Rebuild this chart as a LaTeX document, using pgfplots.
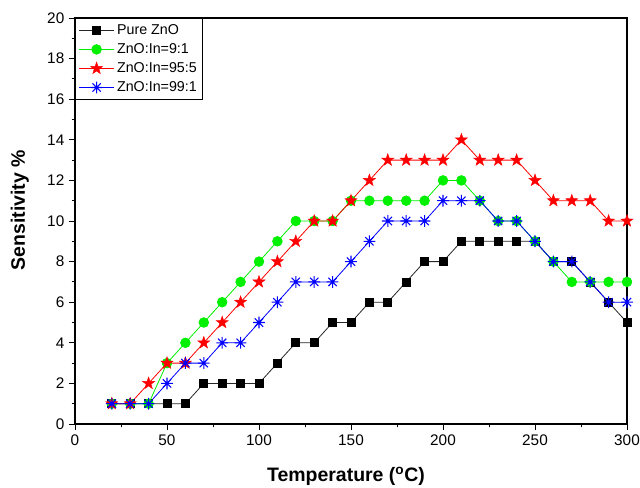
\documentclass[border=0pt]{standalone}
\usepackage{pgfplots}
\pgfplotsset{compat=1.18}
\usepackage{fontspec}
\setmainfont{Liberation Sans}
\usetikzlibrary{plotmarks}
\pgfdeclareplotmark{fstar}{%
  \pgfpathmoveto{\pgfpointpolar{90}{\pgfplotmarksize}}%
  \pgfpathlineto{\pgfpointpolar{126}{0.40\pgfplotmarksize}}%
  \pgfpathlineto{\pgfpointpolar{162}{\pgfplotmarksize}}%
  \pgfpathlineto{\pgfpointpolar{198}{0.40\pgfplotmarksize}}%
  \pgfpathlineto{\pgfpointpolar{234}{\pgfplotmarksize}}%
  \pgfpathlineto{\pgfpointpolar{270}{0.40\pgfplotmarksize}}%
  \pgfpathlineto{\pgfpointpolar{306}{\pgfplotmarksize}}%
  \pgfpathlineto{\pgfpointpolar{342}{0.40\pgfplotmarksize}}%
  \pgfpathlineto{\pgfpointpolar{18}{\pgfplotmarksize}}%
  \pgfpathlineto{\pgfpointpolar{54}{0.40\pgfplotmarksize}}%
  \pgfpathclose\pgfusepathqfillstroke}
\pgfdeclareplotmark{ast8}{%
  \pgfpathmoveto{\pgfqpoint{-\pgfplotmarksize}{0pt}}\pgfpathlineto{\pgfqpoint{\pgfplotmarksize}{0pt}}%
  \pgfpathmoveto{\pgfqpoint{0pt}{-\pgfplotmarksize}}\pgfpathlineto{\pgfqpoint{0pt}{\pgfplotmarksize}}%
  \pgfpathmoveto{\pgfpoint{-0.707\pgfplotmarksize}{-0.707\pgfplotmarksize}}\pgfpathlineto{\pgfpoint{0.707\pgfplotmarksize}{0.707\pgfplotmarksize}}%
  \pgfpathmoveto{\pgfpoint{-0.707\pgfplotmarksize}{0.707\pgfplotmarksize}}\pgfpathlineto{\pgfpoint{0.707\pgfplotmarksize}{-0.707\pgfplotmarksize}}%
  \pgfusepathqstroke}
\definecolor{mygreen}{RGB}{0,240,0}
\begin{document}
\begin{tikzpicture}
\begin{axis}[
  scale only axis,
  width=414pt, height=304.5pt,
  xmin=0, xmax=300, ymin=0, ymax=20,
  xtick={0,50,...,300}, minor xtick={25,75,...,275},
  ytick={0,2,...,20}, minor ytick={1,3,...,19},
  tick align=outside, xtick pos=bottom, ytick pos=left,
  major tick length=4.5pt, minor tick length=2.5pt,
  axis line style={line width=1pt},
  every tick/.style={black, line width=0.7pt},
  ticklabel style={font=\fontsize{11.5}{13}\selectfont},
  /pgf/number format/assume math mode=true,
  xlabel={\bfseries Temperature (\textsuperscript{o}C)},
  ylabel={\bfseries Sensitivity \%},
  label style={font=\fontsize{14.6}{16}\selectfont},
  xlabel style={at={(axis description cs:0.491,-0.128)}, anchor=center},
  ylabel style={at={(axis description cs:-0.1,0.527)}, anchor=center},
  legend style={at={(rel axis cs:0,1)}, anchor=north west, draw=black, line width=0.6pt,
    font=\fontsize{10.7}{12}\selectfont, row sep=1.3pt, inner sep=2.5pt},
  legend cell align=left,
  legend image code/.code={\draw[mark repeat=2,mark phase=2] plot coordinates {(0cm,0cm) (0.46cm,0cm) (0.92cm,0cm)};},
]
\addplot[black!85, line width=0.6pt, mark=square*, mark size=3pt, mark options={solid, fill=black, draw=black}] coordinates {
(20,1)(30,1)(40,1)(50,1)(60,1)(70,2)(80,2)(90,2)(100,2)(110,3)(120,4)(130,4)(140,5)(150,5)(160,6)(170,6)(180,7)(190,8)(200,8)(210,9)(220,9)(230,9)(240,9)(250,9)(260,8)(270,8)(280,7)(290,6)(300,5)};
\addlegendentry{Pure ZnO}
\addplot[mygreen, line width=0.6pt, mark=*, mark size=3.6pt, mark options={solid, fill=mygreen, draw=mygreen}] coordinates {
(20,1)(30,1)(40,1)(50,3)(60,4)(70,5)(80,6)(90,7)(100,8)(110,9)(120,10)(130,10)(140,10)(150,11)(160,11)(170,11)(180,11)(190,11)(200,12)(210,12)(220,11)(230,10)(240,10)(250,9)(260,8)(270,7)(280,7)(290,7)(300,7)};
\addlegendentry{ZnO:In=9:1}
\addplot[red, line width=0.6pt, mark=fstar, mark size=4.8pt, mark options={solid, fill=red, draw=red, line width=0.3pt}] coordinates {
(20,1)(30,1)(40,2)(50,3)(60,3)(70,4)(80,5)(90,6)(100,7)(110,8)(120,9)(130,10)(140,10)(150,11)(160,12)(170,13)(180,13)(190,13)(200,13)(210,14)(220,13)(230,13)(240,13)(250,12)(260,11)(270,11)(280,11)(290,10)(300,10)};
\addlegendentry{ZnO:In=95:5}
\addplot[blue, line width=0.6pt, mark=ast8, mark size=4.4pt, mark options={solid, draw=blue, line width=0.8pt}] coordinates {
(20,1)(30,1)(40,1)(50,2)(60,3)(70,3)(80,4)(90,4)(100,5)(110,6)(120,7)(130,7)(140,7)(150,8)(160,9)(170,10)(180,10)(190,10)(200,11)(210,11)(220,11)(230,10)(240,10)(250,9)(260,8)(270,8)(280,7)(290,6)(300,6)};
\addlegendentry{ZnO:In=99:1}
\end{axis}
\pgfresetboundingbox
\path (-56.25pt,-47.25pt) rectangle (423.75pt,318pt);
\end{tikzpicture}
\end{document}
